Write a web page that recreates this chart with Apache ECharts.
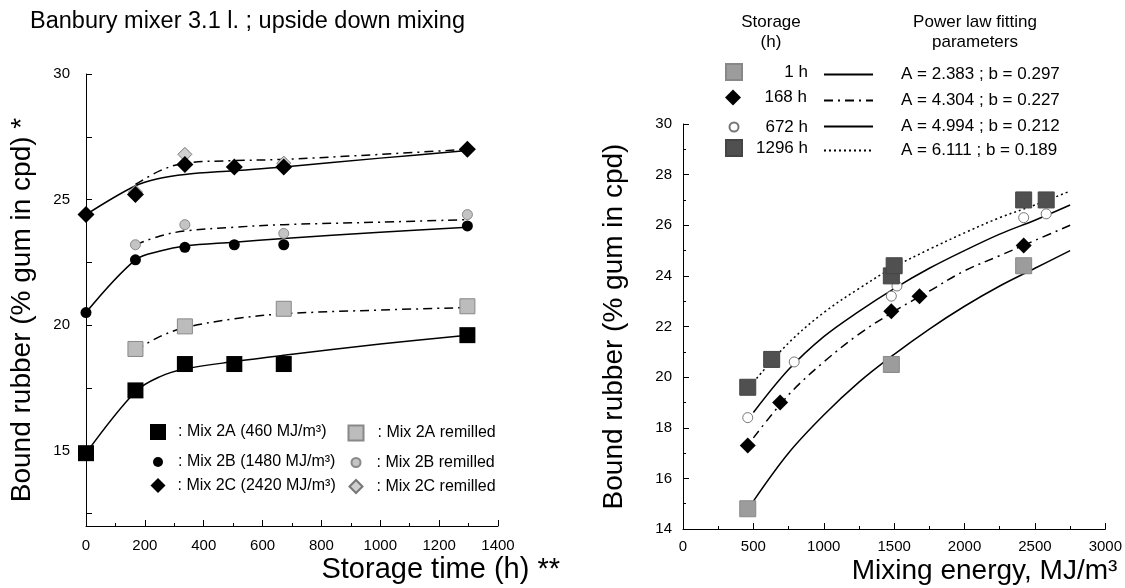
<!DOCTYPE html>
<html>
<head>
<meta charset="utf-8">
<script src="https://cdn.jsdelivr.net/npm/echarts@6/dist/echarts.min.js"></script>
<style>
  html, body { margin: 0; padding: 0; background: #fff; }
  #chart { width: 1125px; height: 588px; }
</style>
</head>
<body>
<div id="chart"></div>
<script>
// ---- left panel: bound rubber vs storage time ----
const storageHours = [0, 168, 336, 504, 672, 1296];
const mix2A = [14.9, 17.4, 18.45, 18.45, 18.45, 19.6];
const mix2B = [20.5, 22.6, 23.1, 23.2, 23.2, 23.95];
const mix2C = [24.4, 25.2, 26.4, 26.3, 26.3, 27.0];

const remillHours = [168, 336, 672, 1296];
const mix2ARemilled = [19.05, 19.95, 20.65, 20.75];
const mix2BRemilled = [23.2, 24.0, 23.65, 24.4];
const mix2CRemilled = [25.3, 26.8, 26.45, 27.0];

// fitted curves
const fitHours = [0, 168, 252, 336, 504, 672, 1000, 1296];
const fit2A = [14.9, 17.35, 17.95, 18.25, 18.55, 18.8, 19.25, 19.6];
const fit2B = [20.5, 22.6, 22.95, 23.15, 23.3, 23.45, 23.7, 23.9];
const fit2C = [24.4, 25.55, 25.85, 26.0, 26.15, 26.3, 26.65, 26.95];
const fitHoursRemilled = [168, 252, 336, 504, 672, 1000, 1296];
const fit2ARemilled = [19.0, 19.55, 19.9, 20.25, 20.45, 20.6, 20.7];
const fit2BRemilled = [23.2, 23.55, 23.75, 23.9, 24.0, 24.1, 24.2];
const fit2CRemilled = [25.6, 26.15, 26.45, 26.55, 26.6, 26.8, 27.0];

// ---- right panel: bound rubber vs mixing energy ----
const energy1h = [460, 1480, 2420];
const bound1h = [14.8, 20.5, 24.4];
const energy168h = [460, 690, 1480, 1680, 2420];
const bound168h = [17.3, 19.0, 22.6, 23.2, 25.2];
const energy672h = [460, 790, 1480, 1520, 2420, 2580];
const bound672h = [18.4, 20.6, 23.2, 23.6, 26.3, 26.45];
const energy1296h = [460, 630, 1480, 1500, 2420, 2580];
const bound1296h = [19.6, 20.7, 24.0, 24.4, 27.0, 27.0];

const fitEnergy = [500, 750, 1000, 1250, 1500, 1750, 2000, 2250, 2500, 2750];
const fit1h = [15.1, 17.0, 18.5, 19.8, 20.9, 21.9, 22.8, 23.6, 24.3, 25.0];
const fit168h = [17.6, 19.3, 20.6, 21.7, 22.6, 23.4, 24.2, 24.8, 25.4, 26.0];
const fit672h = [18.6, 20.3, 21.6, 22.6, 23.5, 24.3, 25.0, 25.65, 26.2, 26.8];
const fit1296h = [19.8, 21.35, 22.55, 23.5, 24.35, 25.05, 25.7, 26.3, 26.8, 27.35];

const storageLabels = ['1 h', '168 h', '672 h', '1296 h'];
const fitLabels = ['A = 2.383 ; b = 0.297', 'A = 4.304 ; b = 0.227', 'A = 4.994 ; b = 0.212', 'A = 6.111 ; b = 0.189'];

const FONT = '"Liberation Sans", Arial, sans-serif';
const DASHDOT = [9, 5, 2, 5];
const DOTTED = [2, 3];

const pairs = (xs, ys) => xs.map((x, i) => [x, ys[i]]);

const chart = echarts.init(document.getElementById('chart'));

function scatter(name, idx, xs, ys, symbol, size, color, border) {
  return {
    name: name, type: 'scatter', xAxisIndex: idx, yAxisIndex: idx,
    data: pairs(xs, ys), symbol: symbol, symbolSize: size, z: 5,
    itemStyle: { color: color, borderColor: border || color, borderWidth: border ? 1 : 0, opacity: 1 },
    emphasis: { disabled: true }
  };
}
function fitLine(name, idx, xs, ys, dash) {
  return {
    name: name, type: 'line', xAxisIndex: idx, yAxisIndex: idx,
    data: pairs(xs, ys), smooth: 0.35, showSymbol: false, symbol: 'none', z: 3,
    itemStyle: { color: '#000' },
    lineStyle: { color: '#000', width: 1.5, type: dash || 'solid' },
    emphasis: { disabled: true }
  };
}

// one legend component per item so each one can sit exactly where the figure has it
function legendItem(name, icon, w, h, cx, cy, extra) {
  return Object.assign({
    data: [{ name: name, icon: icon }],
    left: cx - w / 2, top: cy - h / 2,
    itemWidth: w, itemHeight: h, padding: 0,
    selectedMode: false,
    textStyle: { fontFamily: FONT, fontSize: 16, color: '#000' }
  }, extra || {});
}
const leftText = pad => ({ fontFamily: FONT, fontSize: 16, color: '#000', padding: [0, 0, 0, pad] });

const leftRows = [432, 459, 485];
const legends = [
  legendItem('Mix 2A (460 MJ/m³)', 'rect', 16, 16, 158, leftRows[0], { formatter: ': {name}', textStyle: leftText(7) }),
  legendItem('Mix 2B (1480 MJ/m³)', 'circle', 10, 10, 158, leftRows[1], { formatter: ': {name}', textStyle: leftText(10) }),
  legendItem('Mix 2C (2420 MJ/m³)', 'diamond', 15, 15, 158, leftRows[2], { formatter: ': {name}', textStyle: leftText(7) }),
  legendItem('Mix 2A remilled', 'rect', 15, 15, 355, leftRows[0], { formatter: ': {name}', textStyle: leftText(9) }),
  legendItem('Mix 2B remilled', 'circle', 9, 9, 355, leftRows[1], { formatter: ': {name}', textStyle: leftText(11) }),
  legendItem('Mix 2C remilled', 'diamond', 13, 13, 355, leftRows[2], { formatter: ': {name}', textStyle: leftText(9) })
];

const rightRows = [71, 97, 123, 147];
const storageIcons = [['rect', 16], ['diamond', 16], ['circle', 9], ['rect', 16]];
storageLabels.forEach((lab, i) => {
  const w = storageIcons[i][1];
  legends.push(legendItem(lab, storageIcons[i][0], w, w, 733, rightRows[i], {
    formatter: '{a|{name}}',
    textStyle: { fontFamily: FONT, fontSize: 17, color: '#000', rich: { a: { width: 69 - w / 2, align: 'right', fontSize: 17, fontFamily: FONT } } }
  }));
});
fitLabels.forEach((lab, i) => {
  legends.push({
    data: [{ name: lab }],
    left: 823, top: rightRows[i] - 5, itemWidth: 49, itemHeight: 10, padding: 0,
    selectedMode: false,
    itemStyle: { color: 'rgba(0,0,0,0)', borderColor: 'rgba(0,0,0,0)', borderWidth: 0 },
    textStyle: { fontFamily: FONT, fontSize: 17, color: '#000', padding: [0, 0, 0, 23] }
  });
});

const plain = v => String(v);

function valueAxis(grid, min, max, opts) {
  return Object.assign({
    type: 'value', gridIndex: grid, min: min, max: max,
    axisLine: { show: true, onZero: false, lineStyle: { color: '#000', width: 1 } },
    axisTick: { show: true, inside: true, length: 6, lineStyle: { color: '#000' } },
    minorTick: { show: true, splitNumber: 2, length: 3, lineStyle: { color: '#000' } },
    splitLine: { show: false },
    axisLabel: { color: '#000', fontSize: 15, fontFamily: FONT, formatter: plain },
    nameTextStyle: { color: '#000', fontSize: 28, fontFamily: FONT }
  }, opts);
}

const option = {
  animation: false,
  backgroundColor: '#fff',
  textStyle: { fontFamily: FONT },
  grid: [
    { left: 86, top: 74, width: 412, height: 452 },
    { left: 683, top: 124, width: 423, height: 405 }
  ],
  graphic: [
    { type: 'text', x: 30, y: 22, style: { text: 'Banbury mixer 3.1 l. ; upside down mixing', font: '23.5px ' + FONT, fill: '#000', verticalAlign: 'middle' } },
    { type: 'text', x: 771, y: 32, style: { text: 'Storage\n(h)', font: '17px ' + FONT, lineHeight: 20, fill: '#000', align: 'center', verticalAlign: 'middle' } },
    { type: 'text', x: 975, y: 32, style: { text: 'Power law fitting\nparameters', font: '17px ' + FONT, lineHeight: 20, fill: '#000', align: 'center', verticalAlign: 'middle' } }
  ],
  legend: legends,
  xAxis: [
    valueAxis(0, 0, 1400, {
      interval: 200,
      axisLabel: { color: '#000', fontSize: 15, fontFamily: FONT, margin: 12, formatter: plain },
      name: 'Storage time (h) **', nameLocation: 'end', nameGap: 62,
      nameTextStyle: { color: '#000', fontSize: 29, fontFamily: FONT, align: 'right', verticalAlign: 'top', padding: [29, 0, 0, 0] }
    }),
    valueAxis(1, 0, 3000, {
      interval: 500,
      axisLabel: { color: '#000', fontSize: 15, fontFamily: FONT, margin: 10, formatter: plain },
      name: 'Mixing energy, MJ/m³', nameLocation: 'end', nameGap: 12,
      nameTextStyle: { color: '#000', fontSize: 28, fontFamily: FONT, align: 'right', verticalAlign: 'top', padding: [28, 0, 0, 0] }
    })
  ],
  yAxis: [
    valueAxis(0, 12, 30, {
      axisLabel: { color: '#000', fontSize: 15, fontFamily: FONT, margin: 16, formatter: plain, customValues: [15, 20, 25, 30] },
      axisTick: { show: true, inside: true, length: 6, lineStyle: { color: '#000' }, customValues: [12.5, 15, 17.5, 20, 22.5, 25, 27.5, 30] },
      minorTick: { show: false },
      name: 'Bound rubber (% gum in cpd) *', nameLocation: 'middle', nameGap: 50,
      nameTextStyle: { color: '#000', fontSize: 28, fontFamily: FONT, padding: [0, 20, 0, 0] }
    }),
    valueAxis(1, 14, 30, {
      interval: 2,
      axisLabel: { color: '#000', fontSize: 15, fontFamily: FONT, margin: 11, formatter: plain },
      name: 'Bound rubber (% gum in cpd)', nameLocation: 'middle', nameGap: 55
    })
  ],
  series: [
    fitLine('fit 2A', 0, fitHours, fit2A),
    fitLine('fit 2B', 0, fitHours, fit2B),
    fitLine('fit 2C', 0, fitHours, fit2C),
    fitLine('fit 2A remilled', 0, fitHoursRemilled, fit2ARemilled, DASHDOT),
    fitLine('fit 2B remilled', 0, fitHoursRemilled, fit2BRemilled, DASHDOT),
    fitLine('fit 2C remilled', 0, fitHoursRemilled, fit2CRemilled, DASHDOT),
    scatter('Mix 2C remilled', 0, remillHours, mix2CRemilled, 'diamond', 14, '#cfcfcf', '#777'),
    scatter('Mix 2A remilled', 0, remillHours, mix2ARemilled, 'rect', 15, '#bcbcbc', '#888'),
    scatter('Mix 2B remilled', 0, remillHours, mix2BRemilled, 'circle', 10, '#c4c4c4', '#888'),
    scatter('Mix 2A (460 MJ/m³)', 0, storageHours, mix2A, 'rect', 16, '#000'),
    scatter('Mix 2B (1480 MJ/m³)', 0, storageHours, mix2B, 'circle', 11, '#000'),
    scatter('Mix 2C (2420 MJ/m³)', 0, storageHours, mix2C, 'diamond', 17, '#000'),

    fitLine(fitLabels[0], 1, fitEnergy, fit1h),
    fitLine(fitLabels[1], 1, fitEnergy, fit168h, DASHDOT),
    fitLine(fitLabels[2], 1, fitEnergy, fit672h),
    fitLine(fitLabels[3], 1, fitEnergy, fit1296h, DOTTED),
    scatter(storageLabels[2], 1, energy672h, bound672h, 'circle', 10, '#fff', '#777'),
    scatter(storageLabels[0], 1, energy1h, bound1h, 'rect', 16, '#9c9c9c', '#888'),
    scatter(storageLabels[3], 1, energy1296h, bound1296h, 'rect', 16, '#505050', '#444'),
    scatter(storageLabels[1], 1, energy168h, bound168h, 'diamond', 16, '#000')
  ]
};

chart.setOption(option);
</script>
</body>
</html>
